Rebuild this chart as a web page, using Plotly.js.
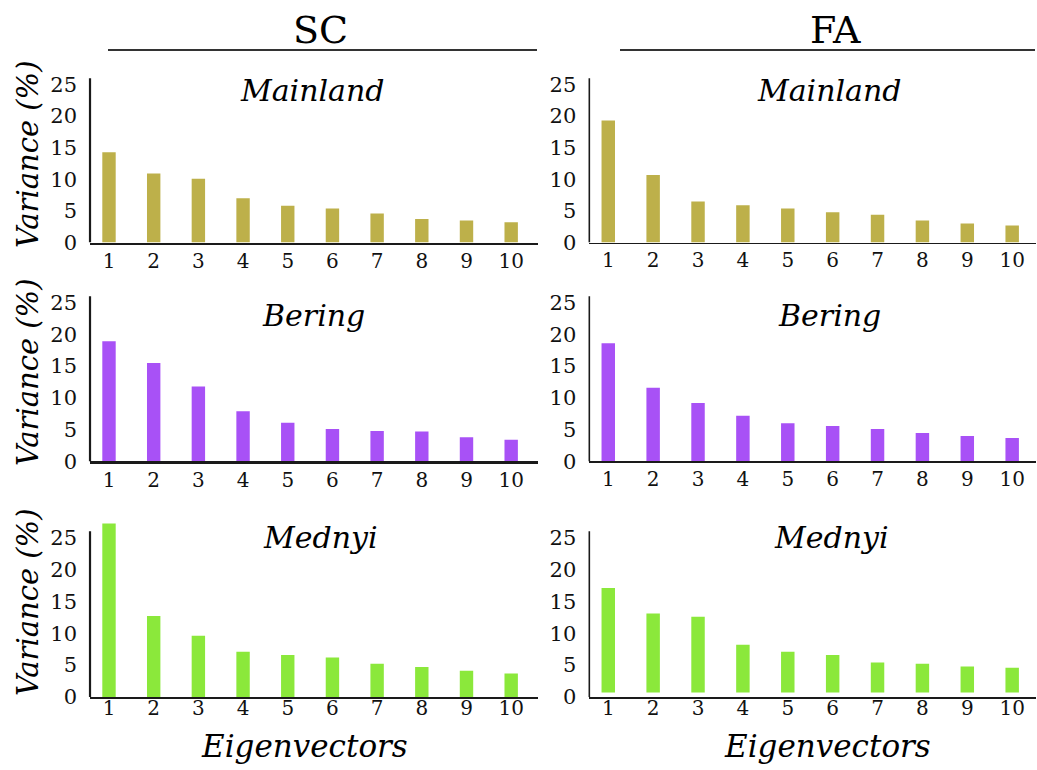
<!DOCTYPE html>
<html>
<head>
<meta charset="utf-8">
<script src="https://cdn.plot.ly/plotly-3.0.1.min.js"></script>
<style>
html,body{margin:0;padding:0;background:#fff;}
#chart{width:1037px;height:770px;}
</style>
</head>
<body>
<div id="chart"></div>
<script>
// ---- data ----
const eigenvectors = [1, 2, 3, 4, 5, 6, 7, 8, 9, 10];
const tickLabelsX = ['1', '2', '3', '4', '5', '6', '7', '8', '9', '10'];
const tickValsY = [0, 5, 10, 15, 20, 25];
const columns = ['SC', 'FA'];
const populations = ['Mainland', 'Bering', 'Mednyi'];

const scMainland = [14.3, 10.9, 10.1, 7.0, 5.8, 5.4, 4.6, 3.7, 3.5, 3.2];
const faMainland = [19.3, 10.7, 6.5, 5.9, 5.4, 4.8, 4.4, 3.5, 3.0, 2.7];
const scBering   = [18.9, 15.5, 11.8, 7.9, 6.1, 5.1, 4.8, 4.7, 3.8, 3.4];
const faBering   = [18.6, 11.6, 9.2, 7.2, 6.0, 5.6, 5.1, 4.5, 4.0, 3.7];
const scMednyi   = [27.2, 12.7, 9.6, 7.1, 6.6, 6.2, 5.2, 4.7, 4.1, 3.7];
const faMednyi   = [17.1, 13.1, 12.6, 8.2, 7.1, 6.6, 5.4, 5.2, 4.8, 4.6];
const faMednyiBase = 0.7;

const popColors = ['#BDB04A', '#A851F6', '#8BE83B'];

// ---- layout geometry ----
const W = 1037, H = 770;
const serif = 'DejaVu Serif';
const rowDomains = [[0.68506, 0.91078], [0.40065, 0.62779], [0.09481, 0.32260]];
const colDomains = [[0.0868, 0.5188], [0.5683, 0.999]];
const colXRange = [[0.575, 10.6], [0.578, 10.53]];
const axisLineW = [2.2, 1.6];
const rowTickStandoff = [-1, -1, -8];

const series = [
  [scMainland, faMainland],
  [scBering, faBering],
  [scMednyi, faMednyi]
];

const traces = [];
const layout = {
  width: W, height: H, autosize: false,
  margin: {l: 0, r: 0, t: 0, b: 0},
  paper_bgcolor: '#fff', plot_bgcolor: 'rgba(0,0,0,0)',
  showlegend: false,
  font: {family: serif},
  shapes: [], annotations: []
};

let idx = 0;
for (let r = 0; r < 3; r++) {
  for (let c = 0; c < 2; c++) {
    idx++;
    const xa = idx === 1 ? 'x' : 'x' + idx;
    const ya = idx === 1 ? 'y' : 'y' + idx;
    const xaKey = idx === 1 ? 'xaxis' : 'xaxis' + idx;
    const yaKey = idx === 1 ? 'yaxis' : 'yaxis' + idx;
    const vals = series[r][c];
    const useBase = (r === 2 && c === 1);
    traces.push({
      type: 'bar',
      x: eigenvectors,
      y: useBase ? vals.map(v => v - faMednyiBase) : vals,
      base: useBase ? faMednyiBase : undefined,
      width: 0.3,
      marker: {color: popColors[r], line: {width: 0}},
      xaxis: xa, yaxis: ya,
      hoverinfo: 'x+y'
    });
    layout[xaKey] = {
      domain: colDomains[c], anchor: ya,
      range: colXRange[c], tickvals: eigenvectors, ticktext: tickLabelsX,
      showline: true, linecolor: '#1a1a1a', linewidth: axisLineW[c],
      showgrid: false, zeroline: false, ticks: '', ticklabelstandoff: rowTickStandoff[r],
      tickfont: {family: serif, size: 20, color: '#111'}
    };
    layout[yaKey] = {
      domain: rowDomains[r], anchor: xa,
      range: [0, 27.5], tickvals: tickValsY,
      showline: false, showgrid: false, zeroline: false, ticks: '',
      ticklabelstandoff: 12,
      tickfont: {family: serif, size: 21, color: '#111'}
    };
    layout.shapes.push({
      type: 'line', xref: xa + ' domain', yref: ya,
      x0: 0, x1: 0, y0: 0, y1: 26,
      line: {color: '#1a1a1a', width: axisLineW[c]}
    });
  }
}

// column headers
const headerX = [320 / W, 835 / W];
const headerLines = [[108 / W, 537 / W], [620 / W, 1035 / W]];
for (let c = 0; c < 2; c++) {
  layout.annotations.push({
    text: columns[c], xref: 'paper', yref: 'paper',
    x: headerX[c], y: 1 - 30 / H, xanchor: 'center', yanchor: 'middle',
    showarrow: false, font: {family: serif, size: 38, color: '#000'}
  });
  layout.shapes.push({
    type: 'line', xref: 'paper', yref: 'paper',
    x0: headerLines[c][0], x1: headerLines[c][1], y0: 1 - 50 / H, y1: 1 - 50 / H,
    line: {color: '#333', width: 2}
  });
}

// population subtitles
const subX = [[312 / W, 829 / W], [313 / W, 829 / W], [320 / W, 831 / W]];
const subY = [91, 315, 537];
for (let r = 0; r < 3; r++) {
  for (let c = 0; c < 2; c++) {
    layout.annotations.push({
      text: '<i>' + populations[r] + '</i>', xref: 'paper', yref: 'paper',
      x: subX[r][c], y: 1 - subY[r] / H, xanchor: 'center', yanchor: 'middle',
      showarrow: false, font: {family: serif, size: 30, color: '#000'}
    });
  }
  const yc = [155, 373, 603][r];
  layout.annotations.push({
    text: '<i>Variance (%)</i>', xref: 'paper', yref: 'paper',
    x: 28 / W, y: 1 - yc / H, xanchor: 'center', yanchor: 'middle',
    textangle: -90, showarrow: false,
    font: {family: serif, size: 29, color: '#000'}
  });
}

// x-axis titles (bottom row)
const xtX = [304 / W, 827 / W];
for (let c = 0; c < 2; c++) {
  layout.annotations.push({
    text: '<i>Eigenvectors</i>', xref: 'paper', yref: 'paper',
    x: xtX[c], y: 1 - 746 / H, xanchor: 'center', yanchor: 'middle',
    showarrow: false, font: {family: serif, size: 31, color: '#000'}
  });
}

Plotly.newPlot('chart', traces, layout, {displayModeBar: false, staticPlot: true});
</script>
</body>
</html>
